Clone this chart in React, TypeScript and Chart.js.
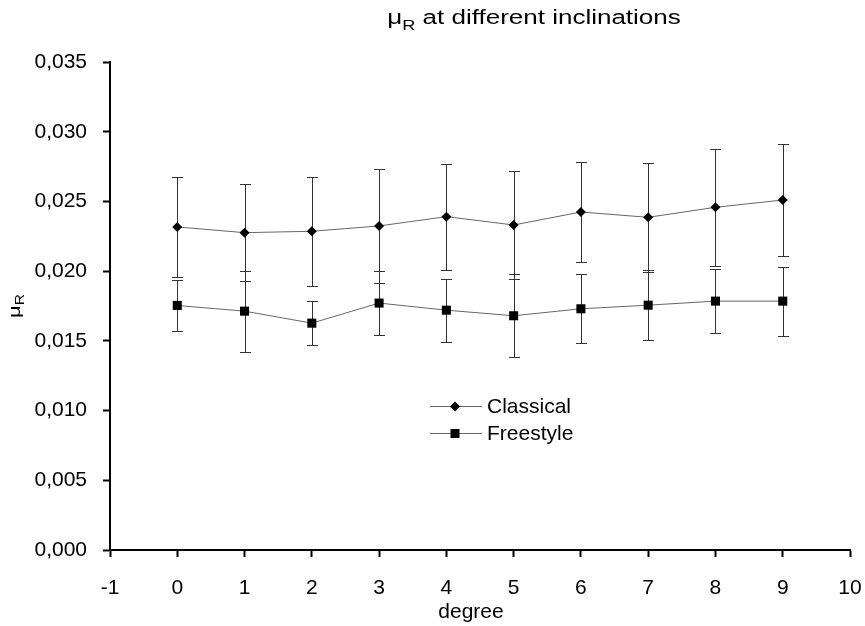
import React, { useEffect, useRef } from "react";
import { Chart, registerables } from "chart.js";

Chart.register(...registerables);

// ---- data ----
const degrees = [0, 1, 2, 3, 4, 5, 6, 7, 8, 9];
const classical = [0.02317, 0.02276, 0.02286, 0.02324, 0.02391, 0.02331, 0.02424, 0.02386, 0.02458, 0.0251];
const classicalErr = [0.0036, 0.0035, 0.0039, 0.0041, 0.0038, 0.0039, 0.0036, 0.0039, 0.0042, 0.004];
const freestyle = [0.01754, 0.01713, 0.01627, 0.01771, 0.0172, 0.0168, 0.0173, 0.01756, 0.01785, 0.01785];
const freestyleErr = [0.0018, 0.0029, 0.0016, 0.0023, 0.00226, 0.00296, 0.00247, 0.00253, 0.00231, 0.00247];
const seriesNames = ["Classical", "Freestyle"];
const xMin = -1;
const xMax = 10;
const yMin = 0;
const yMax = 0.035;
const yStep = 0.005;
const titleMain = "μ";
const titleSub = "R";
const titleRest = " at different inclinations";
const xTitle = "degree";

const FONT = "'Liberation Sans', Arial, Helvetica, sans-serif";
const errors = [classicalErr, freestyleErr];
const styles = ["rectRot", "rect"];

const decorPlugin = {
  id: "decor",
  beforeDatasetsDraw(chart: any) {
    const ctx = chart.ctx;
    const xs = chart.scales.x;
    const ys = chart.scales.y;
    ctx.save();
    ctx.strokeStyle = "#333";
    ctx.lineWidth = 1;
    chart.data.datasets.forEach((ds: any, di: number) => {
      const errs = errors[di];
      ds.data.forEach((p: any, i: number) => {
        const x = Math.round(xs.getPixelForValue(p.x)) + 0.5;
        const yTop = Math.round(ys.getPixelForValue(p.y + errs[i])) + 0.5;
        const yBot = Math.round(ys.getPixelForValue(p.y - errs[i])) + 0.5;
        ctx.beginPath();
        ctx.moveTo(x, yTop);
        ctx.lineTo(x, yBot);
        ctx.moveTo(x - 5.5, yTop);
        ctx.lineTo(x + 5.5, yTop);
        ctx.moveTo(x - 5.5, yBot);
        ctx.lineTo(x + 5.5, yBot);
        ctx.stroke();
      });
    });
    ctx.restore();
  },
  afterDraw(chart: any) {
    const ctx = chart.ctx;
    ctx.save();
    ctx.fillStyle = "#000";
    ctx.textBaseline = "alphabetic";
    ctx.textAlign = "left";

    // title (stretched horizontally as in reference)
    const sx = 1.3;
    ctx.font = `20px ${FONT}`;
    const wMu = ctx.measureText(titleMain).width;
    const wRest = ctx.measureText(titleRest).width;
    ctx.font = `14px ${FONT}`;
    const wR = ctx.measureText(titleSub).width;
    const total = (wMu + wR + wRest) * sx;
    ctx.translate(534 - total / 2, 24);
    ctx.scale(sx, 1);
    ctx.font = `20px ${FONT}`;
    ctx.fillText(titleMain, 0, 0);
    ctx.font = `14px ${FONT}`;
    ctx.fillText(titleSub, wMu, 6);
    ctx.font = `20px ${FONT}`;
    ctx.fillText(titleRest, wMu + wR, 0);
    ctx.restore();

    // y-axis title
    ctx.save();
    ctx.fillStyle = "#000";
    const ca = chart.chartArea;
    ctx.translate(20, (ca.top + ca.bottom) / 2);
    ctx.rotate(-Math.PI / 2);
    ctx.scale(1.3, 1);
    ctx.font = `17px ${FONT}`;
    const yMuW = ctx.measureText(titleMain).width;
    ctx.font = `12px ${FONT}`;
    const yRW = ctx.measureText(titleSub).width;
    const yTot = yMuW + yRW;
    ctx.font = `17px ${FONT}`;
    ctx.fillText(titleMain, -yTot / 2, 0);
    ctx.font = `12px ${FONT}`;
    ctx.fillText(titleSub, -yTot / 2 + yMuW, 4);
    ctx.restore();

    // x-axis title
    ctx.save();
    ctx.fillStyle = "#000";
    ctx.font = `21px ${FONT}`;
    ctx.textAlign = "center";
    ctx.textBaseline = "alphabetic";
    ctx.fillText(xTitle, 471, 618);
    ctx.restore();

    // legend
    ctx.save();
    seriesNames.forEach((name, i) => {
      const y = 406 + 27 * i + 0.5;
      ctx.strokeStyle = "#666";
      ctx.lineWidth = 1;
      ctx.beginPath();
      ctx.moveTo(430, y);
      ctx.lineTo(482, y);
      ctx.stroke();
      ctx.fillStyle = "#000";
      ctx.beginPath();
      if (styles[i] === "rectRot") {
        ctx.moveTo(455 - 5, y);
        ctx.lineTo(455, y - 5);
        ctx.lineTo(455 + 5, y);
        ctx.lineTo(455, y + 5);
        ctx.closePath();
      } else {
        ctx.rect(455 - 4.5, y - 4.5, 9, 9);
      }
      ctx.fill();
      ctx.font = `21px ${FONT}`;
      ctx.textAlign = "left";
      ctx.textBaseline = "middle";
      ctx.fillText(name, 487, y + 1);
    });
    ctx.restore();
  },
};

export default function App() {
  const ref = useRef<HTMLCanvasElement | null>(null);
  useEffect(() => {
    if (!ref.current) return;
    const mk = (vals: number[]) => degrees.map((d, i) => ({ x: d, y: vals[i] }));
    const chart = new Chart(ref.current, {
      type: "line",
      data: {
        datasets: [
          {
            label: seriesNames[0],
            data: mk(classical),
            borderColor: "#666",
            borderWidth: 1,
            pointStyle: "rectRot",
            pointRadius: 5,
            pointBackgroundColor: "#000",
            pointBorderColor: "#000",
            pointBorderWidth: 0,
            fill: false,
          },
          {
            label: seriesNames[1],
            data: mk(freestyle),
            borderColor: "#666",
            borderWidth: 1,
            pointStyle: "rect",
            pointRadius: 6.4,
            pointBackgroundColor: "#000",
            pointBorderColor: "#000",
            pointBorderWidth: 0,
            fill: false,
          },
        ],
      },
      options: {
        responsive: false,
        animation: false,
        layout: { padding: { left: 0, top: 62, right: 15, bottom: 0 } },
        plugins: {
          legend: { display: false },
          title: { display: false },
          tooltip: { enabled: false },
        },
        scales: {
          x: {
            type: "linear",
            min: xMin,
            max: xMax,
            afterFit: (s: any) => {
              s.height = 76;
              s.paddingRight = 15;
              s.paddingLeft = 0;
            },
            ticks: {
              stepSize: 1,
              color: "#000",
              font: { family: FONT, size: 21 },
              padding: 19,
              maxRotation: 0,
            },
            grid: {
              drawOnChartArea: false,
              drawTicks: true,
              tickLength: 7,
              tickColor: "#000",
              tickWidth: 2,
            },
            border: { display: true, color: "#000", width: 2 },
          },
          y: {
            min: yMin,
            max: yMax,
            afterFit: (s: any) => {
              s.width = 110;
            },
            ticks: {
              stepSize: yStep,
              color: "#000",
              font: { family: FONT, size: 21 },
              padding: 16,
              callback: (v: any) => Number(v).toFixed(3).replace(".", ","),
            },
            grid: {
              drawOnChartArea: false,
              drawTicks: true,
              tickLength: 7,
              tickColor: "#000",
              tickWidth: 2,
            },
            border: { display: true, color: "#000", width: 2 },
          },
        },
      },
      plugins: [decorPlugin],
    } as any);
    return () => chart.destroy();
  }, []);
  return (
    <div style={{ position: "fixed", left: 0, top: 0, width: 865, height: 626, background: "#fff" }}>
      <canvas ref={ref} width={865} height={626} style={{ display: "block" }} />
    </div>
  );
}
